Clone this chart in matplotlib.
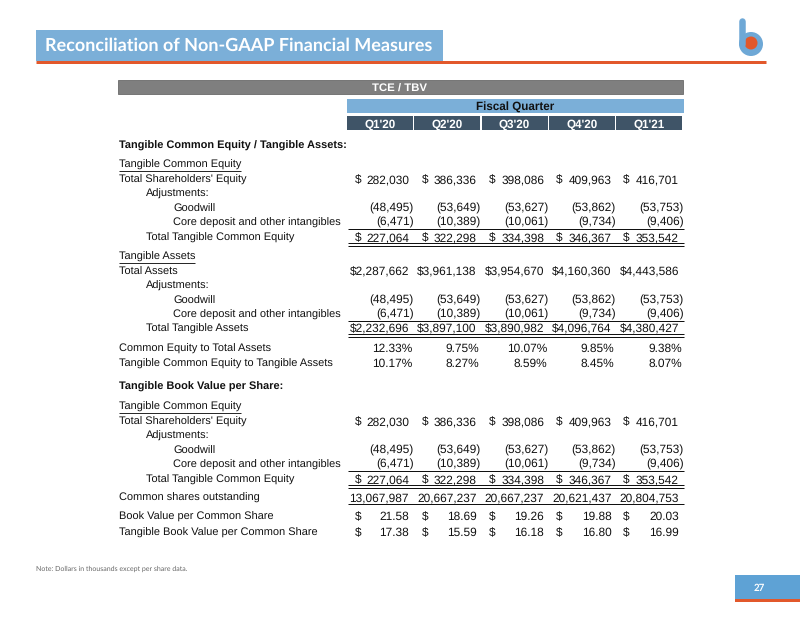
import matplotlib
matplotlib.use("Agg")
import matplotlib.pyplot as plt
from matplotlib.patches import Rectangle, Circle

plt.rcParams['text.hinting'] = 'no_hinting'

# values in thousands of dollars unless noted
quarters = ["Q1'20", "Q2'20", "Q3'20", "Q4'20", "Q1'21"]
total_equity = [282030, 386336, 398086, 409963, 416701]
goodwill = [-48495, -53649, -53627, -53862, -53753]
core_deposit = [-6471, -10389, -10061, -9734, -9406]
tangible_equity = [227064, 322298, 334398, 346367, 353542]
total_assets = [2287662, 3961138, 3954670, 4160360, 4443586]
tangible_assets = [2232696, 3897100, 3890982, 4096764, 4380427]
equity_to_assets = [12.33, 9.75, 10.07, 9.85, 9.38]
tce_to_ta = [10.17, 8.27, 8.59, 8.45, 8.07]
shares_out = [13067987, 20667237, 20667237, 20621437, 20804753]
bv_per_share = [21.58, 18.69, 19.26, 19.88, 20.03]
tbv_per_share = [17.38, 15.59, 16.18, 16.80, 16.99]

BLUE = '#7bafd8'
SLATE = '#3f5467'
GRAY = '#7f7f7f'
ORANGE = '#e2582b'
INK = '#111111'

fig = plt.figure(figsize=(8, 6.18), dpi=100)
ax = fig.add_axes([0, 0, 1, 1])
ax.set_xlim(0, 800)
ax.set_ylim(618, 0)
ax.axis('off')


def px(n):
    # pixels -> points
    return n * 0.72


LBL = dict(family='Liberation Sans', size=7.9, color=INK, va='baseline')
NUM = dict(family='Liberation Sans', size=8.6, color=INK, va='baseline')
BASE = 4  # baseline offset from row centre, px

# slide header
ax.add_patch(Rectangle((36, 30), 407, 31, color=BLUE, lw=0))
ax.plot([36, 766], [62, 62], color=ORANGE, lw=px(3), solid_capstyle='butt')
ax.text(45, 46, "Reconciliation of Non-GAAP Financial Measures", family='Lato',
        weight='bold', size=13, color='white', va='center')

# logo
ax.plot([742, 742], [21, 44], color='#6ea8d6', lw=px(6.5), solid_capstyle='round')
ax.add_patch(Circle((751, 44), 12, color='#6ea8d6', lw=0))
ax.add_patch(Circle((751, 43), 6.5, color=ORANGE, lw=0))

# table header bars
ax.add_patch(Rectangle((118, 80), 565, 14, facecolor=GRAY, edgecolor='#6a6a6a', lw=0.6))
ax.text(400, 87.5, "TCE / TBV", family='Liberation Sans', weight='bold', size=8.2,
        color='white', ha='center', va='center_baseline')
ax.add_patch(Rectangle((347, 99), 337, 14, color=BLUE, lw=0))
ax.text(515.5, 106.5, "Fiscal Quarter", family='Liberation Sans', weight='bold',
        size=8.4, color=INK, ha='center', va='center_baseline')

col_left = [347 + i * 67.3 for i in range(5)]
for i, q in enumerate(quarters):
    ax.add_patch(Rectangle((col_left[i], 116), 66, 14, color=SLATE, lw=0))
    ax.text(col_left[i] + 33, 123.5, q, family='Liberation Sans', weight='bold',
            size=8.4, color='white', ha='center', va='center_baseline')

num_right = [409 + i * 67.5 for i in range(5)]
dollar_x = [355 + i * 67 for i in range(5)]
indent = [119, 146, 173]

underlined = []


def label(y, text, level=0, bold=False, underline=False):
    t = ax.text(indent[level], y + BASE, text, weight='bold' if bold else 'normal', **LBL)
    if underline:
        underlined.append((t, y))


def num(x, y, s, ha='right'):
    ax.text(x, y + BASE, s, ha=ha, **NUM)


def money(y, vals, dollar=False):
    for i, v in enumerate(vals):
        if v < 0:
            num(num_right[i] + 4.5, y, f"({-v:,})")
        elif dollar and v >= 1000000:
            num(num_right[i], y, f"${v:,}")
        else:
            num(num_right[i], y, f"{v:,}")
            if dollar:
                num(dollar_x[i], y, "$", ha='left')


def pct(y, vals):
    for i, v in enumerate(vals):
        num(num_right[i] + 3, y, f"{v:.2f}%")


def per_share(y, vals):
    for i, v in enumerate(vals):
        num(num_right[i], y, f"{v:.2f}")
        num(dollar_x[i], y, "$", ha='left')


def rule(y, double=False):
    ax.plot([348, 684], [y, y], color=INK, lw=px(1), solid_capstyle='butt')
    if double:
        ax.plot([348, 684], [y + 2.5, y + 2.5], color=INK, lw=px(1), solid_capstyle='butt')


def equity_block(top):
    label(top, "Tangible Common Equity", underline=True)
    label(top + 15, "Total Shareholders' Equity")
    money(top + 15, total_equity, dollar=True)
    label(top + 29, "Adjustments:", 1)
    label(top + 44, "Goodwill", 2)
    money(top + 44, goodwill)
    label(top + 58, "Core deposit and other intangibles", 2)
    money(top + 58, core_deposit)
    rule(top + 65)
    label(top + 73, "Total Tangible Common Equity", 1)
    money(top + 73, tangible_equity, dollar=True)
    rule(top + 79, double=True)


# section 1
label(145, "Tangible Common Equity / Tangible Assets:", bold=True)
equity_block(164)

label(256, "Tangible Assets", underline=True)
label(271, "Total Assets")
money(271, total_assets, dollar=True)
label(285, "Adjustments:", 1)
label(300, "Goodwill", 2)
money(300, goodwill)
label(314, "Core deposit and other intangibles", 2)
money(314, core_deposit)
rule(321)
label(328, "Total Tangible Assets", 1)
money(328, tangible_assets, dollar=True)
rule(334, double=True)

label(348, "Common Equity to Total Assets")
pct(348, equity_to_assets)
label(363, "Tangible Common Equity to Tangible Assets")
pct(363, tce_to_ta)

# section 2
label(386, "Tangible Book Value per Share:", bold=True)
equity_block(406)

label(497, "Common shares outstanding")
money(497, shares_out)
rule(504)

label(516, "Book Value per Common Share")
per_share(516, bv_per_share)
label(532, "Tangible Book Value per Common Share")
per_share(532, tbv_per_share)

# footer
ax.text(36, 569, "Note: Dollars in thousands except per share data.", family='Lato',
        size=5, color='#666666', va='center')
ax.add_patch(Rectangle((735, 575), 65, 24, color='#5ea2d5', lw=0))
ax.add_patch(Rectangle((735, 599), 65, 3, color=ORANGE, lw=0))
ax.text(754, 588, "27", family='Lato', weight='bold', size=7, color='white', va='center')

# underline the sub headings
fig.canvas.draw()
renderer = fig.canvas.get_renderer()
inv = ax.transData.inverted()
for t, y in underlined:
    bb = t.get_window_extent(renderer=renderer)
    x0, _ = inv.transform((bb.x0, bb.y0))
    x1, _ = inv.transform((bb.x1, bb.y0))
    ax.plot([x0, x1], [y + 6.5, y + 6.5], color=INK, lw=px(0.9), solid_capstyle='butt')

fig.savefig("out.png", dpi=100)
